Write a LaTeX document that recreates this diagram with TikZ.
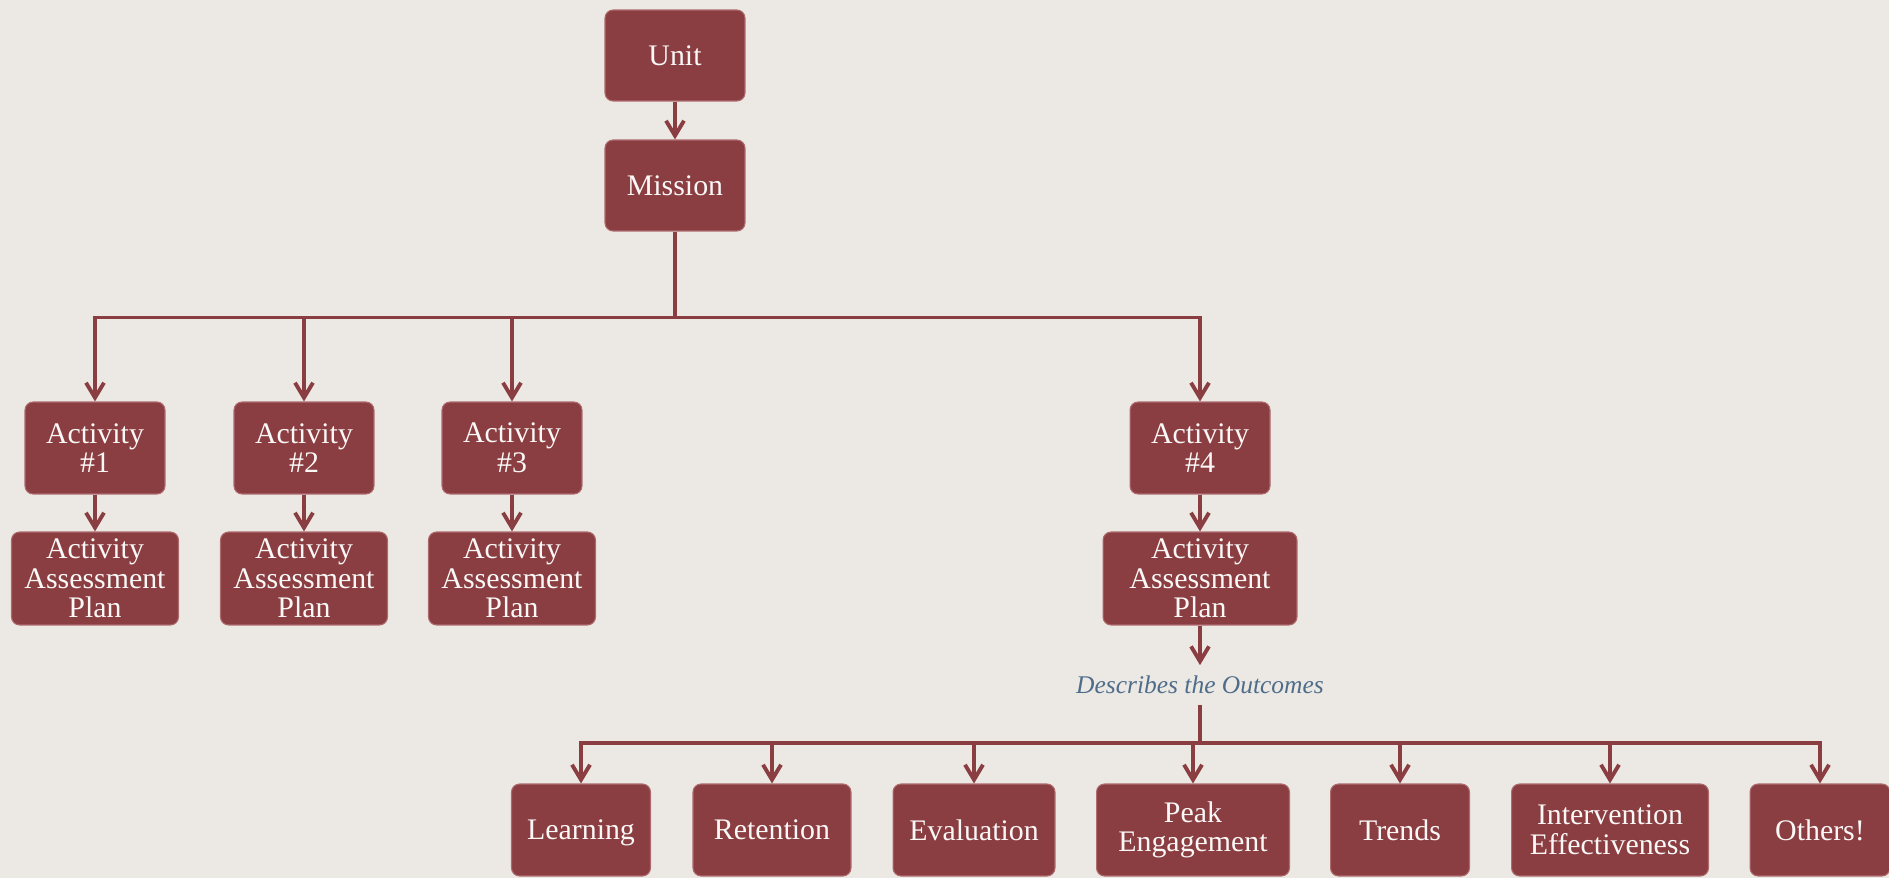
\documentclass[tikz,border=0pt]{standalone}
\usepackage{xcolor}
\usepackage{fontspec}
\setmainfont{Liberation Serif}
\usepackage{tikz}
\usetikzlibrary{arrows.meta}
\usetikzlibrary{positioning}
\definecolor{boxred}{HTML}{8B3E41}
\definecolor{boxedge}{HTML}{AD6B6E}
\definecolor{paper}{HTML}{ECE9E4}
\definecolor{notegray}{HTML}{4F6D8A}

\begin{document}
\begin{tikzpicture}[x=0.02cm, y=-0.02cm,
		box/.style={draw=boxedge, line width=0.6pt, fill=boxred, text=white!96!boxred,
		rounded corners=0.16cm, align=center, inner sep=0pt,
		minimum height=1.84cm, font=\fontsize{17}{16.8}\selectfont},
		note/.style={text=notegray, inner xsep=2pt, inner ysep=6pt,
		font=\fontsize{14.5}{17}\selectfont\itshape},
		link/.style={draw=boxred, line width=2.2pt, -{Straight Barb[length=3mm, width=3.6mm]}},
		trunk/.style={draw=boxred, line width=2.2pt}
	]
		\path[use as bounding box, fill=paper] (0,0) rectangle (1889,878);

		\node[box, minimum width=2.8cm, minimum height=1.82cm] (unit) at (675,55.5) {Unit};
		\node[box, minimum width=2.8cm, minimum height=1.82cm] (mission) at (675,185.5) {Mission};

		\node[box, minimum width=2.8cm] (act1) at (95,448) {Activity\\\#1};
		\node[box, minimum width=2.8cm] (act2) at (304,448) {Activity\\\#2};
		\node[box, minimum width=2.8cm] (act3) at (512,448) {Activity\\\#3};
		\node[box, minimum width=2.8cm] (act4) at (1200,448) {Activity\\\#4};

		\node[box, minimum width=3.34cm, minimum height=1.86cm] (plan1) at (95,578.5) {Activity\\Assessment\\Plan};
		\node[box, minimum width=3.34cm, minimum height=1.86cm] (plan2) at (304,578.5) {Activity\\Assessment\\Plan};
		\node[box, minimum width=3.34cm, minimum height=1.86cm] (plan3) at (512,578.5) {Activity\\Assessment\\Plan};
		\node[box, minimum width=3.88cm, minimum height=1.86cm] (plan4) at (1200,578.5) {Activity\\Assessment\\Plan};

		\node[note] (outcomes) at (1200,685) {Describes the Outcomes};

		\node[box, minimum width=2.78cm, text depth=0pt] (learning) at (581,830) {Learning};
		\node[box, minimum width=3.16cm] (retention) at (772,830) {Retention};
		\node[box, minimum width=3.24cm] (evaluation) at (974,830) {Evaluation};
		\node[box, minimum width=3.86cm] (peak) at (1193,830) {Peak\\Engagement};
		\node[box, minimum width=2.78cm] (trends) at (1400,830) {Trends};
		\node[box, minimum width=3.94cm] (intervention) at (1610,830) {Intervention\\Effectiveness};
		\node[box, minimum width=2.8cm] (others) at (1820,830) {Others!};

		\coordinate[below=1.72cm of mission.south] (fork);
		\coordinate[below=0.76cm of outcomes.south] (spread);

		\draw[link] (unit) -- (mission);

		\draw[trunk] (mission.south) -- (fork);
		\draw[link] (fork) -| (act1.north);
		\draw[link] (fork) -| (act2.north);
		\draw[link] (fork) -| (act3.north);
		\draw[link] (fork) -| (act4.north);

		\draw[link] (act1) -- (plan1);
		\draw[link] (act2) -- (plan2);
		\draw[link] (act3) -- (plan3);
		\draw[link] (act4) -- (plan4);

		\draw[link] (plan4) -- (outcomes);

		\draw[trunk] (outcomes.south) -- (spread);
		\draw[link] (spread) -| (learning.north);
		\draw[link] (spread) -| (retention.north);
		\draw[link] (spread) -| (evaluation.north);
		\draw[link] (spread) -| (peak.north);
		\draw[link] (spread) -| (trends.north);
		\draw[link] (spread) -| (intervention.north);
		\draw[link] (spread) -| (others.north);
\end{tikzpicture}
\end{document}
